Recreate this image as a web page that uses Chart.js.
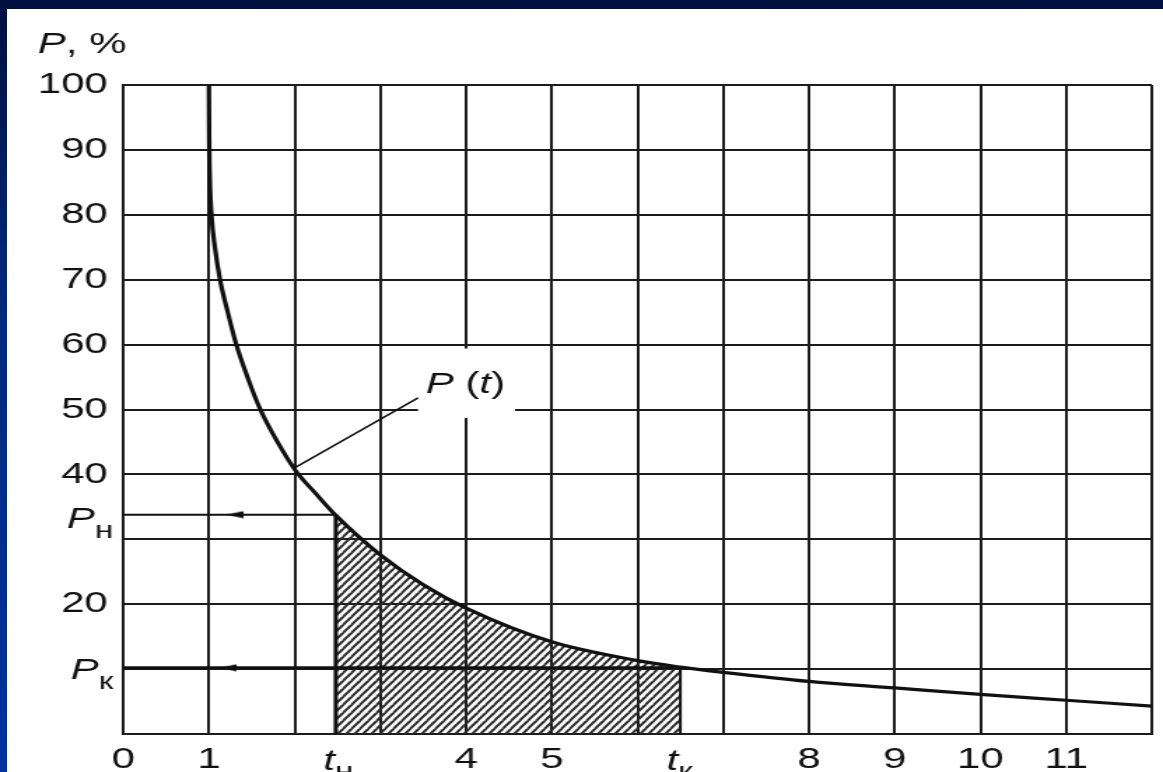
<!DOCTYPE html>
<html>
<head>
<meta charset="utf-8">
<title>P(t)</title>
<script src="https://cdn.jsdelivr.net/npm/chart.js@4.4.1/dist/chart.umd.min.js"></script>
<style>
  html, body { margin: 0; padding: 0; }
  body {
    width: 1163px; height: 772px; overflow: hidden; position: relative;
    background: linear-gradient(#00103f 0%, #00287f 40%, #0033a0 100%);
  }
  #sheet { position: absolute; left: 7px; top: 9px; width: 1156px; height: 763px; background: #fff; overflow: hidden; }
  /* скан растянут по горизонтали, поэтому рисуем уже и растягиваем */
  #stretch { width: 826px; height: 763px; transform: scaleX(1.39952); transform-origin: 0 0; }
</style>
</head>
<body>
<div id="sheet"><div id="stretch"><canvas id="grafico"></canvas></div></div>
<script>
// кривая P(t), значения
const tCurve = [1, 1.003, 1.01, 1.03, 1.07, 1.13, 1.22, 1.32, 1.45, 1.6, 1.8, 2.01, 2.25, 2.48, 3, 3.5, 4, 5, 6, 6.5, 7, 8, 9, 10, 11, 12];
const pCurve = [100, 92, 86, 80, 75, 70, 65, 60, 55, 50, 45, 40.6, 37, 33.7, 27.6, 23, 19.4, 14.2, 11.3, 10.3, 9.5, 8.1, 7.1, 6.1, 5.2, 4.3];

// подписи осей
const tTicks = [0, 1, 2, 3, 4, 5, 6, 7, 8, 9, 10, 11, 12];
const tLabels = ['0', '1', '', '', '4', '5', '', '', '8', '9', '10', '11', ''];
const pTicks = [0, 10, 20, 30, 40, 50, 60, 70, 80, 90, 100];
const pLabels = ['', '', '20', '', '40', '50', '60', '70', '80', '90', '100'];

// начало и конец периода
const tN = 2.48, tK = 6.5;
const pN = 33.8, pK = 10.2;
const arrowN = 1.3, arrowK = 1.22;

// выноска P(t)
const leaderT = [2.01, 3.44];
const leaderP = [41.1, 51.8];
const noteT = 3.53, noteP = 52.5;
const gapT = [3.44, 4.57];
const gapP = [48.7, 59.4];

const ink = '#111';
const font = '"Liberation Sans", Arial, sans-serif';

function pts(xs, ys) {
  return xs.map((x, i) => ({x: x, y: ys[i]}));
}

// штриховка
function hatch(ctx) {
  const c = document.createElement('canvas');
  const w = 6, h = 8;
  c.width = w; c.height = h;
  const g = c.getContext('2d');
  g.strokeStyle = '#2a2a2a';
  g.lineWidth = 2;
  for (let n = -1; n <= 1; n++) {
    g.beginPath();
    g.moveTo(w * n, h);
    g.lineTo(w * (n + 2), -h);
    g.stroke();
  }
  return ctx.createPattern(c, 'repeat');
}

// наконечник стрелки
function arrowHead() {
  const c = document.createElement('canvas');
  c.width = 12; c.height = 8;
  const g = c.getContext('2d');
  g.fillStyle = ink;
  g.beginPath();
  g.moveTo(0, 4);
  g.lineTo(12, 0.5);
  g.lineTo(12, 7.5);
  g.closePath();
  g.fill();
  return c;
}

function withSub(ctx, main, low, left, base, drop) {
  ctx.font = 'italic 30px ' + font;
  ctx.fillText(main, left, base);
  const w = ctx.measureText(main).width;
  ctx.font = '24px ' + font;
  ctx.fillText(low, left + w, base + drop);
}

function subWidth(ctx, main, low) {
  ctx.font = 'italic 30px ' + font;
  const a = ctx.measureText(main).width;
  ctx.font = '24px ' + font;
  return a + ctx.measureText(low).width;
}

const markLabels = {
  id: 'markLabels',
  beforeDatasetsDraw(chart) {
    const {ctx, scales: {x, y}} = chart;
    const x0 = x.getPixelForValue(gapT[0]), x1 = x.getPixelForValue(gapT[1]);
    const y0 = y.getPixelForValue(gapP[1]), y1 = y.getPixelForValue(gapP[0]);
    ctx.save();
    ctx.fillStyle = '#fff';
    ctx.fillRect(x0, y0, x1 - x0, y1 - y0);
    ctx.restore();
  },
  afterDraw(chart) {
    const {ctx, chartArea, scales: {x, y}} = chart;
    ctx.save();
    ctx.fillStyle = ink;
    ctx.textBaseline = 'alphabetic';
    ctx.textAlign = 'left';

    // заголовок оси
    ctx.font = 'italic 30px ' + font;
    ctx.fillText('P', 22, 44);
    const pw = ctx.measureText('P').width;
    ctx.font = '30px ' + font;
    ctx.fillText(', %', 22 + pw, 44);

    // Pн и Pк
    let right = chartArea.left - 7;
    withSub(ctx, 'P', 'н', right - subWidth(ctx, 'P', 'н'), y.getPixelForValue(pN) + 13, 10);
    withSub(ctx, 'P', 'к', right - subWidth(ctx, 'P', 'к'), y.getPixelForValue(pK) + 11, 10);

    // tн и tк
    const base = chartArea.bottom + 36;
    withSub(ctx, 't', 'н', x.getPixelForValue(tN) - 9, base, 9);
    withSub(ctx, 't', 'к', x.getPixelForValue(tK) - 10, base, 9);

    // P (t)
    const lx = x.getPixelForValue(noteT), ly = y.getPixelForValue(noteP);
    ctx.font = 'italic 30px ' + font;
    ctx.fillText('P', lx, ly);
    let w = ctx.measureText('P ').width;
    ctx.font = '30px ' + font;
    ctx.fillText('(', lx + w, ly);
    w += ctx.measureText('(').width;
    ctx.font = 'italic 30px ' + font;
    ctx.fillText('t', lx + w, ly);
    w += ctx.measureText('t').width;
    ctx.font = '30px ' + font;
    ctx.fillText(')', lx + w, ly);
    ctx.restore();
  }
};

const ctx = document.getElementById('grafico').getContext('2d');
const arrow = arrowHead();
const line = {fill: false, pointRadius: 0, borderColor: ink, tension: 0};

new Chart(ctx, {
  type: 'line',
  data: {
    datasets: [
      Object.assign({}, line, {
        label: 'P(t)',
        data: pts(tCurve, pCurve),
        borderWidth: 3.2,
        cubicInterpolationMode: 'monotone'
      }),
      Object.assign({}, line, {
        label: 'выноска',
        data: pts(leaderT, leaderP),
        borderWidth: 1.6
      }),
      Object.assign({}, line, {
        label: 'Pн',
        data: pts([0, arrowN, tN], [pN, pN, pN]),
        borderWidth: 2,
        pointRadius: [0, 2, 0],
        pointStyle: arrow
      }),
      Object.assign({}, line, {
        label: 'Pк',
        data: pts([0, arrowK, tK], [pK, pK, pK]),
        borderWidth: 3,
        pointRadius: [0, 2, 0],
        pointStyle: arrow
      }),
      Object.assign({}, line, {
        label: 'tн',
        data: pts([tN, tN], [0, pN]),
        borderWidth: 3
      }),
      Object.assign({}, line, {
        label: 'tк',
        data: pts([tK, tK], [0, pK]),
        borderWidth: 2
      }),
      {
        label: 'штриховка',
        data: pts(tCurve, pCurve).filter(p => p.x >= tN && p.x <= tK),
        fill: 'origin',
        backgroundColor: hatch(ctx),
        borderWidth: 0,
        pointRadius: 0,
        cubicInterpolationMode: 'monotone'
      }
    ]
  },
  options: {
    responsive: true,
    maintainAspectRatio: false,
    animation: false,
    layout: {padding: {top: 76, right: 2, left: 0, bottom: 0}},
    plugins: {
      legend: {display: false},
      tooltip: {enabled: false}
    },
    scales: {
      x: {
        type: 'linear',
        min: 0,
        max: 12,
        afterFit: s => { s.height = 38; },
        ticks: {
          stepSize: 1,
          autoSkip: false,
          maxRotation: 0,
          padding: 8,
          color: ink,
          font: {family: font, size: 30},
          callback: v => tLabels[tTicks.indexOf(v)] || ''
        },
        grid: {color: '#1c1c1c', lineWidth: 2, drawTicks: false},
        border: {display: true, color: '#1c1c1c', width: 2}
      },
      y: {
        min: 0,
        max: 100,
        afterFit: s => { s.width = 83; },
        ticks: {
          stepSize: 10,
          padding: 11,
          color: ink,
          font: {family: font, size: 30},
          callback: v => pLabels[pTicks.indexOf(v)] || ''
        },
        grid: {color: '#1c1c1c', lineWidth: 2, drawTicks: false},
        border: {display: true, color: '#1c1c1c', width: 2}
      }
    }
  },
  plugins: [markLabels]
});
</script>
</body>
</html>
